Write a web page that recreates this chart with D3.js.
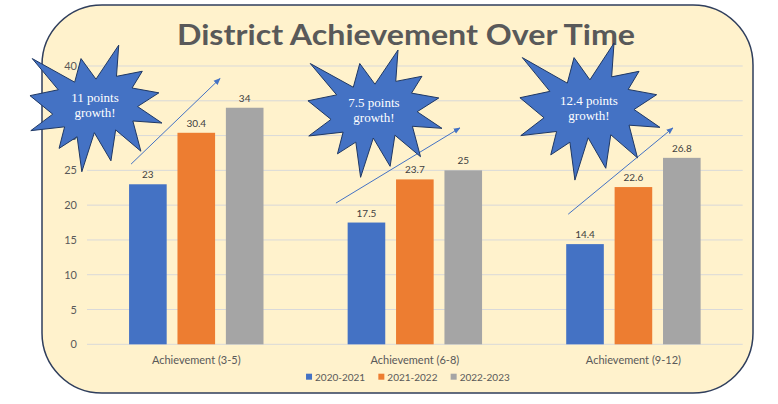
<!DOCTYPE html>
<html>
<head>
<meta charset="utf-8">
<script src="https://cdn.jsdelivr.net/npm/d3@7"></script>
<style>
  html, body { margin: 0; padding: 0; background: #fff; }
  svg { display: block; }
</style>
</head>
<body>
<svg id="chart" width="778" height="404"></svg>
<script>
const categories = ["Achievement (3-5)", "Achievement (6-8)", "Achievement (9-12)"];
const series = ["2020-2021", "2021-2022", "2022-2023"];
const values2021 = [23, 17.5, 14.4];
const values2022 = [30.4, 23.7, 22.6];
const values2023 = [34, 25, 26.8];
const yTicks = [0, 5, 10, 15, 20, 25, 30, 35, 40];
const growthLabels = ["11 points", "7.5 points", "12.4 points"];

const colors = ["#4472C4", "#ED7D31", "#A5A5A5"];
const SANS = "Lato, 'Open Sans', sans-serif";
const SERIF = "'Liberation Serif', 'DejaVu Serif', serif";

const svg = d3.select("#chart");

// rounded panel behind everything
svg.append("rect")
  .attr("x", 42).attr("y", 5)
  .attr("width", 711).attr("height", 388)
  .attr("rx", 60).attr("ry", 60)
  .attr("fill", "#FFF2CC")
  .attr("stroke", "#2F3E5C")
  .attr("stroke-width", 1.5);

svg.append("text")
  .attr("x", 406).attr("y", 45)
  .attr("text-anchor", "middle")
  .attr("font-family", SANS)
  .attr("font-weight", 700)
  .attr("font-size", 29)
  .attr("textLength", 458)
  .attr("lengthAdjust", "spacingAndGlyphs")
  .attr("fill", "#595959")
  .text("District Achievement Over Time");

const x = d3.scaleBand()
  .domain(categories)
  .range([87, 742.7])
  .paddingInner(0.385)
  .paddingOuter(0.1925);

const xs = d3.scaleBand()
  .domain(series)
  .range([0, x.bandwidth()])
  .paddingInner(0.223);

const y = d3.scaleLinear().domain([0, 40]).range([344.3, 66]);

// grid
svg.append("g")
  .selectAll("line")
  .data(yTicks)
  .join("line")
  .attr("x1", 87).attr("x2", 742.7)
  .attr("y1", d => y(d)).attr("y2", d => y(d))
  .attr("stroke", "#D9D9D9")
  .attr("stroke-width", 1);

const yAxis = svg.append("g")
  .attr("transform", "translate(87,0)")
  .call(d3.axisLeft(y).tickValues(yTicks).tickSize(0).tickPadding(10));
yAxis.select(".domain").remove();
yAxis.selectAll("text")
  .attr("font-family", SANS)
  .attr("font-size", 11)
  .attr("fill", "#595959");

const xAxis = svg.append("g")
  .attr("transform", `translate(0,${y(0)})`)
  .call(d3.axisBottom(x).tickSize(0).tickPadding(12));
xAxis.select(".domain").remove();
xAxis.selectAll("text")
  .attr("font-family", SANS)
  .attr("font-size", 11)
  .attr("fill", "#595959");

const rows = categories.map((c, i) => ({
  category: c,
  vals: [values2021[i], values2022[i], values2023[i]]
}));

const groups = svg.append("g")
  .selectAll("g")
  .data(rows)
  .join("g")
  .attr("transform", d => `translate(${x(d.category)},0)`);

const cells = groups.selectAll("g")
  .data(d => d.vals.map((v, j) => ({ series: series[j], value: v, color: colors[j] })))
  .join("g");

cells.append("rect")
  .attr("x", d => xs(d.series))
  .attr("y", d => y(d.value))
  .attr("width", xs.bandwidth())
  .attr("height", d => y(0) - y(d.value))
  .attr("fill", d => d.color);

cells.append("text")
  .attr("x", d => xs(d.series) + xs.bandwidth() / 2)
  .attr("y", d => y(d.value) - 6)
  .attr("text-anchor", "middle")
  .attr("font-family", SANS)
  .attr("font-size", 10)
  .attr("fill", "#404040")
  .text(d => d.value);

// legend
const legend = svg.append("g").attr("transform", "translate(0,376.7)");
const items = legend.selectAll("g").data(series).join("g");
items.append("rect")
  .attr("y", -3).attr("width", 6).attr("height", 6)
  .attr("fill", (d, i) => colors[i]);
items.append("text")
  .attr("x", 9).attr("y", 4)
  .attr("font-family", SANS)
  .attr("font-size", 10)
  .attr("fill", "#595959")
  .text(d => d);
let widths = [];
items.each(function() { widths.push(this.getBBox().width); });
const gap = 13;
const total = d3.sum(widths) + gap * (widths.length - 1);
let cx = 408 - total / 2;
items.attr("transform", (d, i) => {
  const t = `translate(${cx},0)`;
  cx += widths[i] + gap;
  return t;
});

// callouts: arrows and explosion stars, placed relative to each group
const arrowStart = [[2, 25.9], [-11.7, 20.3], [2, 18.7]];
const arrowEnd = [[91, 38.2], [112.3, 31.1], [106.7, 31.1]];
const starBox = [[-99.1, 32.9, 43.0, 24.8], [-39.7, 94.3, 42.3, 24.0], [-46.3, 93.7, 43.3, 23.6]];

svg.append("defs").append("marker")
  .attr("id", "head")
  .attr("viewBox", "0 0 10 10")
  .attr("refX", 9).attr("refY", 5)
  .attr("markerWidth", 7).attr("markerHeight", 7)
  .attr("orient", "auto")
  .append("path")
  .attr("d", "M0,1 L10,5 L0,9 Z")
  .attr("fill", "#4472C4");

svg.append("g")
  .selectAll("line")
  .data(categories)
  .join("line")
  .attr("x1", (c, i) => x(c) + arrowStart[i][0])
  .attr("y1", (c, i) => y(arrowStart[i][1]))
  .attr("x2", (c, i) => x(c) + arrowEnd[i][0])
  .attr("y2", (c, i) => y(arrowEnd[i][1]))
  .attr("stroke", "#4472C4")
  .attr("stroke-width", 1)
  .attr("marker-end", "url(#head)");

// Office "irregularSeal1" outline, in a 21600 unit box
const seal = [[10800,5800],[14522,0],[14155,5325],[18380,4457],[16702,7315],[21097,8137],
  [17607,10475],[21600,13290],[16837,12942],[18145,18095],[14020,14457],[13247,19737],
  [10532,14935],[8485,21600],[7715,15627],[4762,17617],[5667,13937],[135,14587],
  [3722,11775],[0,8615],[4627,7617],[370,2295],[7312,6320],[8352,2295]];

const stars = svg.append("g")
  .selectAll("g")
  .data(categories)
  .join("g");

stars.append("path")
  .attr("d", (c, i) => {
    const [l, r, top, bot] = starBox[i];
    const sx = d3.scaleLinear().domain([0, 21600]).range([x(c) + l, x(c) + r]);
    const sy = d3.scaleLinear().domain([0, 21600]).range([y(top), y(bot)]);
    return d3.line().x(p => sx(p[0])).y(p => sy(p[1]))(seal) + "Z";
  })
  .attr("fill", "#4472C4")
  .attr("stroke", "#1F3864")
  .attr("stroke-width", 1)
  .attr("stroke-linejoin", "miter");

stars.append("text")
  .attr("text-anchor", "middle")
  .attr("font-family", SERIF)
  .attr("font-size", 13)
  .attr("fill", "#fff")
  .each(function(c, i) {
    const [l, r, top, bot] = starBox[i];
    const mx = x(c) + (l + r) / 2 - 1;
    const my = (y(top) + y(bot)) / 2;
    const t = d3.select(this);
    t.append("tspan").attr("x", mx).attr("y", my - 6.5).text(growthLabels[i]);
    t.append("tspan").attr("x", mx).attr("y", my + 8.5).text("growth!");
  });
</script>
</body>
</html>
